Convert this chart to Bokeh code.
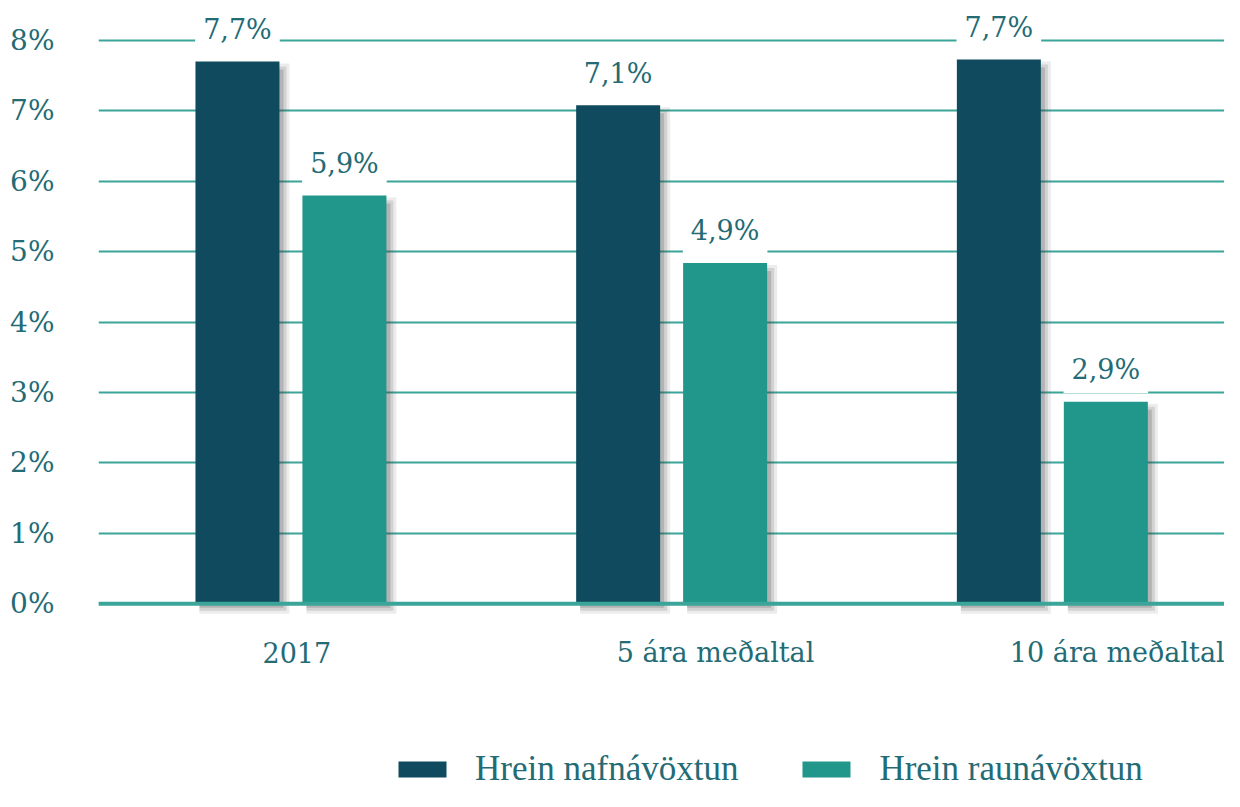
from bokeh.plotting import figure
from bokeh.models import ColumnDataSource, FixedTicker, Span, Legend, LegendItem, CustomJSTickFormatter
from bokeh.core.properties import value
from bokeh.embed import file_html
from bokeh.resources import INLINE

# ---- data ----
categories = ["2017", "5 ára meðaltal", "10 ára meðaltal"]
series_names = ["Hrein nafnávöxtun", "Hrein raunávöxtun"]
nafn_values = [7.7, 7.08, 7.73]
raun_values = [5.8, 4.84, 2.87]
nafn_labels = ["7,7%", "7,1%", "7,7%"]
raun_labels = ["5,9%", "4,9%", "2,9%"]
y_ticks = [0, 1, 2, 3, 4, 5, 6, 7, 8]

# ---- style ----
DARK = "#0f4a5e"
TEAL = "#21968a"
TEXT = "#236b75"
GRID = "#3aa598"
SERIF = "DejaVu Serif"
W, H = 1224, 791
LEFT = 98
SX = 380.7                # px per category unit
SY = 70.4                 # px per percent
PX_X = 1.0 / SX
PX_Y = 1.0 / SY
BAR_W = 84 * PX_X
DODGE = [-0.135, 0.146]
cat_label_offsets = [8, 46, 67]

x_start = -0.5
x_end = x_start + (W - LEFT) / SX
y_end = 8 + 40 / SY
y_start = y_end - H / SY

p = figure(width=W, height=H, x_range=(x_start, x_end), y_range=(y_start, y_end),
           output_backend="svg", toolbar_location=None,
           min_border_left=LEFT, min_border_right=0, min_border_top=0, min_border_bottom=0)
p.outline_line_color = None
p.xaxis.visible = False
p.xgrid.visible = False

yax = p.yaxis[0]
yax.ticker = FixedTicker(ticks=y_ticks)
yax.formatter = CustomJSTickFormatter(code="return tick + '%';")
yax.axis_line_color = None
yax.major_tick_line_color = None
yax.minor_tick_line_color = None
yax.major_label_text_font = SERIF
yax.major_label_text_font_size = "28px"
yax.major_label_text_color = TEXT
yax.major_label_standoff = 38

p.ygrid.ticker = FixedTicker(ticks=y_ticks)
p.ygrid.grid_line_color = GRID
p.ygrid.grid_line_width = 2

xs = list(range(len(categories)))
renderers = []
for si, (vals, col, labs) in enumerate([(nafn_values, DARK, nafn_labels), (raun_values, TEAL, raun_labels)]):
    cx = [x + DODGE[si] for x in xs]
    # soft drop shadow
    for off, alpha in [(10, 0.10), (7, 0.15), (4, 0.22)]:
        p.quad(left=[c - BAR_W / 2 + 4 * PX_X for c in cx],
               right=[c + BAR_W / 2 + off * PX_X for c in cx],
               top=[v - (12 - off) * PX_Y for v in vals],
               bottom=[-off * PX_Y] * len(vals),
               fill_color="#444444", fill_alpha=alpha, line_color=None)
    src = ColumnDataSource(dict(x=cx, top=vals, lab=labs))
    r = p.vbar(x="x", top="top", bottom=0, width=BAR_W, source=src, fill_color=col, line_color=None)
    renderers.append(r)
    p.text(x="x", y="top", text="lab", source=src, text_align="center", text_baseline="alphabetic",
           y_offset=-32, text_font=value(SERIF), text_font_size="27px", text_color=TEXT,
           background_fill_color="white", padding=8)

p.add_layout(Span(location=0, dimension="width", line_color=GRID, line_width=4))

# category labels
for i, c in enumerate(categories):
    p.text(x=[xs[i]], y=[-0.696], text=[c], text_align="center", text_baseline="middle",
           x_offset=cat_label_offsets[i], text_font=value(SERIF), text_font_size="27px", text_color=TEXT)

legend = Legend(items=[LegendItem(label=series_names[i], renderers=[renderers[i]]) for i in range(2)],
                orientation="horizontal", location=(392 - LEFT, 2),
                glyph_width=60, glyph_height=20, label_standoff=23, spacing=58,
                label_text_font="Liberation Serif", label_text_font_size="35px", label_text_color=TEXT,
                border_line_color=None, background_fill_alpha=0, padding=0, margin=0)
p.add_layout(legend, "center")

open("out.html", "w").write(file_html(p, INLINE))
